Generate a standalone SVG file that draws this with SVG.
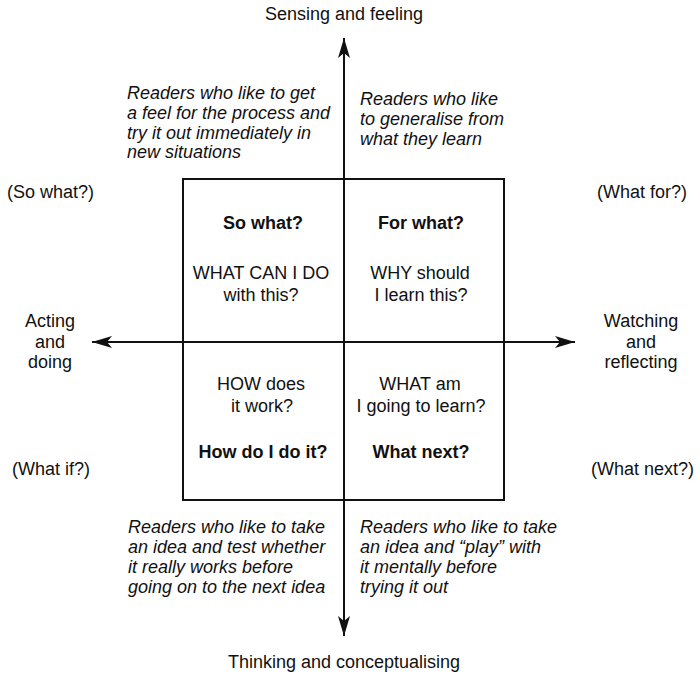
<svg xmlns="http://www.w3.org/2000/svg" width="700" height="680" viewBox="0 0 700 680">
  <style>
    text { font-family: "Liberation Sans", Arial, Helvetica, sans-serif; font-size: 18px; fill: #111; }
    .b { font-weight: bold; }
    .i { font-style: italic; }
    .c { text-anchor: middle; }
    .ln { stroke: #111; stroke-width: 2; fill: none; }
  </style>
  <defs>
    <marker id="ah" viewBox="-21 -7 22 14" refX="0" refY="0" markerWidth="22" markerHeight="14" markerUnits="userSpaceOnUse" orient="auto">
      <path d="M0,0 L-20,-6 L-15,0 L-20,6 Z" fill="#111"/>
    </marker>
  </defs>
  <rect width="700" height="680" fill="#fff"/>

  <g id="grid">
    <rect class="ln" x="183" y="179" width="321" height="321"/>
  </g>

  <g id="connectors">
    <line class="ln" x1="344" y1="342" x2="344" y2="38" marker-end="url(#ah)"/>
    <line class="ln" x1="344" y1="342" x2="344" y2="636" marker-end="url(#ah)"/>
    <line class="ln" x1="344" y1="342" x2="92" y2="342" marker-end="url(#ah)"/>
    <line class="ln" x1="344" y1="342" x2="575" y2="342" marker-end="url(#ah)"/>
  </g>

  <g id="top-label"><text class="c" x="344" y="20">Sensing and feeling</text></g>
  <g id="bottom-label"><text class="c" x="344" y="668">Thinking and conceptualising</text></g>
  <g id="left-label">
    <text class="c" x="50" y="327">Acting</text>
    <text class="c" x="50" y="348">and</text>
    <text class="c" x="50" y="368">doing</text>
  </g>
  <g id="right-label">
    <text class="c" x="641" y="327">Watching</text>
    <text class="c" x="641" y="348">and</text>
    <text class="c" x="641" y="368">reflecting</text>
  </g>

  <g id="so-what-side"><text x="7" y="198">(So what?)</text></g>
  <g id="what-for-side"><text x="597" y="198">(What for?)</text></g>
  <g id="what-if-side"><text x="12" y="475">(What if?)</text></g>
  <g id="what-next-side"><text x="591" y="475">(What next?)</text></g>

  <g id="readers-tl">
    <text class="i" x="127" y="99">Readers who like to get</text>
    <text class="i" x="127" y="119">a feel for the process and</text>
    <text class="i" x="127" y="139">try it out immediately in</text>
    <text class="i" x="127" y="158">new situations</text>
  </g>
  <g id="readers-tr">
    <text class="i" x="360" y="105">Readers who like</text>
    <text class="i" x="360" y="125">to generalise from</text>
    <text class="i" x="360" y="145">what they learn</text>
  </g>
  <g id="readers-bl">
    <text class="i" x="128" y="533">Readers who like to take</text>
    <text class="i" x="128" y="553">an idea and test whether</text>
    <text class="i" x="128" y="573">it really works before</text>
    <text class="i" x="128" y="593">going on to the next idea</text>
  </g>
  <g id="readers-br">
    <text class="i" x="360" y="533">Readers who like to take</text>
    <text class="i" x="360" y="553">an idea and “play” with</text>
    <text class="i" x="360" y="573">it mentally before</text>
    <text class="i" x="360" y="593">trying it out</text>
  </g>

  <g id="q-tl">
    <text class="c b" x="263" y="229">So what?</text>
    <text class="c" x="261" y="279">WHAT CAN I DO</text>
    <text class="c" x="261" y="301">with this?</text>
  </g>
  <g id="q-tr">
    <text class="c b" x="421" y="229">For what?</text>
    <text class="c" x="420" y="279">WHY should</text>
    <text class="c" x="421" y="301">I learn this?</text>
  </g>
  <g id="q-bl">
    <text class="c" x="261" y="390">HOW does</text>
    <text class="c" x="262" y="412">it work?</text>
    <text class="c b" x="263" y="458">How do I do it?</text>
  </g>
  <g id="q-br">
    <text class="c" x="420" y="390">WHAT am</text>
    <text class="c" x="421" y="412">I going to learn?</text>
    <text class="c b" x="421" y="458">What next?</text>
  </g>
</svg>
